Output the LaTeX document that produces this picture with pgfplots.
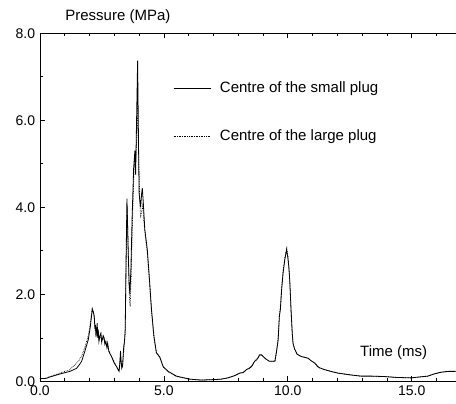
\documentclass[border=0pt]{standalone}
\usepackage{pgfplots}
\pgfplotsset{compat=1.18}
\usepackage{fontspec}
\setmainfont{Liberation Sans}
\begin{document}
\fontsize{14}{16}\selectfont
\begin{tikzpicture}
\begin{axis}[
  scale only axis,
  width=416pt, height=348.4pt,
  xmin=0, xmax=16.77, ymin=0, ymax=8,
  axis x line*=box, axis y line*=left,
  axis line style={-, line width=0.8pt},
  tick align=inside,
  major tick length=5pt, minor tick length=3pt,
  tick style={line width=0.7pt, black},
  xtick={0,5,10,15}, minor xtick={1,2,3,4,6,7,8,9,11,12,13,14,16},
  ytick={0,2,4,6,8}, minor ytick={1,3,5,7},
  /pgf/number format/assume math mode=true,
  /pgf/number format/fixed, /pgf/number format/fixed zerofill, /pgf/number format/precision=1,
  ticklabel style={font=\fontsize{14}{16}\selectfont},
  xlabel={Time (ms)},
  xlabel style={at={(axis description cs:0.851,0.0718)}, anchor=base, font=\fontsize{15}{17}\selectfont},
  ylabel={Pressure (MPa)},
  ylabel style={at={(axis description cs:0.1875,1)}, anchor=base, rotate=-90, yshift=12.6pt, font=\fontsize{15}{17}\selectfont},
  legend style={draw=none, fill=none, at={(axis description cs:0.32,0.866)}, anchor=north west,
    cells={anchor=west}, row sep=31pt, font=\fontsize{15}{17}\selectfont, inner sep=0pt},
  legend image code/.code={\draw[#1] (0pt,0pt) -- (37pt,0pt); \path (44pt,0pt);},
]
\coordinate (BL) at (rel axis cs:0,0);
\addplot[black, line width=0.8pt] coordinates {
(0.00,0.06) (0.25,0.07) (0.40,0.10) (0.81,0.17) (1.21,0.23) (1.48,0.30) (1.61,0.40) (1.68,0.46)
(1.81,0.69) (1.95,0.96) (2.03,1.25) (2.08,1.50) (2.11,1.65) (2.15,1.60) (2.19,1.50) (2.22,1.20)
(2.24,1.30) (2.26,1.02) (2.31,1.34) (2.33,1.00) (2.35,1.19) (2.38,0.92) (2.42,1.05) (2.46,1.11)
(2.49,0.90) (2.51,0.95) (2.55,1.05) (2.59,1.00) (2.62,0.85) (2.66,0.92) (2.70,0.78) (2.73,0.88)
(2.78,0.69) (2.84,0.62) (2.89,0.57) (2.95,0.48) (3.00,0.42) (3.09,0.34) (3.15,0.27) (3.19,0.23)
(3.22,0.40) (3.25,0.70) (3.27,0.50) (3.30,0.30) (3.33,0.34) (3.38,0.80) (3.41,0.92) (3.44,1.20)
(3.47,2.60) (3.51,4.20) (3.56,3.00) (3.60,2.20) (3.63,2.00) (3.67,2.60) (3.72,3.80) (3.78,4.90)
(3.83,5.30) (3.86,4.75) (3.88,5.40) (3.94,7.37) (3.97,5.80) (4.00,4.33) (4.06,4.00) (4.10,4.30)
(4.13,4.44) (4.17,4.10) (4.23,3.49) (4.33,3.03) (4.41,2.41) (4.50,1.65) (4.60,1.03) (4.70,0.65)
(4.78,0.60) (4.84,0.55) (4.97,0.34) (5.17,0.23) (5.51,0.12) (6.05,0.05) (6.50,0.03) (7.00,0.04)
(7.30,0.05) (7.58,0.08) (7.85,0.13) (8.06,0.19) (8.20,0.20) (8.33,0.27) (8.45,0.30) (8.54,0.34)
(8.66,0.46) (8.75,0.50) (8.80,0.54) (8.86,0.61) (8.94,0.61) (9.06,0.54) (9.15,0.50) (9.26,0.46)
(9.40,0.46) (9.48,0.46) (9.55,0.70) (9.61,0.95) (9.66,1.50) (9.70,1.65) (9.75,2.10) (9.81,2.49)
(9.88,2.80) (9.95,3.02) (10.00,2.85) (10.04,2.64) (10.08,2.30) (10.13,1.65) (10.18,1.10) (10.21,0.88)
(10.27,0.75) (10.38,0.62) (10.55,0.57) (10.70,0.55) (10.82,0.53) (10.95,0.47) (11.09,0.42) (11.20,0.34)
(11.29,0.31) (11.48,0.27) (11.80,0.22) (12.02,0.19) (12.50,0.15) (12.96,0.12) (13.40,0.12) (13.90,0.11)
(14.40,0.09) (14.97,0.08) (15.30,0.10) (15.65,0.12) (15.90,0.17) (16.18,0.21) (16.50,0.23) (16.77,0.23)
};
\addlegendentry{Centre of the small plug}
\addplot[black, densely dotted, line width=0.7pt] coordinates {
(0.00,0.06) (0.25,0.07) (0.40,0.11) (0.81,0.19) (1.21,0.27) (1.41,0.38) (1.55,0.46) (1.68,0.58)
(1.81,0.78) (1.95,1.05) (2.03,1.35) (2.08,1.55) (2.11,1.68) (2.15,1.62) (2.19,1.45) (2.23,1.15)
(2.26,1.25) (2.30,1.05) (2.34,1.15) (2.38,0.95) (2.44,1.05) (2.50,0.95) (2.56,1.00) (2.62,0.88)
(2.68,0.85) (2.75,0.75) (2.84,0.62) (2.95,0.50) (3.05,0.38) (3.15,0.28) (3.20,0.25) (3.24,0.55)
(3.28,0.40) (3.33,0.32) (3.39,0.75) (3.44,1.10) (3.48,2.80) (3.52,4.00) (3.57,2.80) (3.61,1.90)
(3.64,1.72) (3.68,2.40) (3.74,3.80) (3.80,4.90) (3.85,5.10) (3.88,5.20) (3.94,6.35) (3.98,5.20)
(4.03,4.10) (4.06,3.76) (4.10,3.90) (4.15,4.05) (4.19,3.70) (4.25,3.35) (4.33,2.95) (4.41,2.35)
(4.50,1.60) (4.60,1.00) (4.70,0.66) (4.78,0.60) (4.86,0.52) (4.97,0.33) (5.17,0.22) (5.51,0.11)
(6.05,0.05) (6.50,0.03) (7.00,0.04) (7.30,0.05) (7.58,0.08) (7.85,0.13) (8.06,0.19) (8.20,0.21)
(8.33,0.27) (8.45,0.31) (8.54,0.35) (8.66,0.46) (8.75,0.51) (8.80,0.55) (8.86,0.60) (8.94,0.60)
(9.06,0.54) (9.15,0.50) (9.26,0.46) (9.40,0.46) (9.48,0.48) (9.55,0.72) (9.61,1.00) (9.66,1.52)
(9.70,1.70) (9.75,2.15) (9.81,2.55) (9.88,2.85) (9.96,3.07) (10.00,2.90) (10.04,2.66) (10.08,2.30)
(10.13,1.62) (10.18,1.08) (10.21,0.88) (10.27,0.74) (10.38,0.62) (10.55,0.57) (10.70,0.55) (10.82,0.53)
(10.95,0.47) (11.09,0.42) (11.20,0.35) (11.29,0.31) (11.48,0.27) (11.80,0.22) (12.02,0.19) (12.50,0.15)
(12.96,0.12) (13.40,0.12) (13.90,0.11) (14.40,0.09) (14.97,0.08) (15.30,0.10) (15.65,0.12) (15.90,0.17)
(16.18,0.21) (16.50,0.23) (16.77,0.23)
};
\addlegendentry{Centre of the large plug}
\end{axis}
\path ([xshift=-40pt,yshift=-22.3pt]BL) rectangle ++(456pt,404pt);
\end{tikzpicture}
\end{document}
